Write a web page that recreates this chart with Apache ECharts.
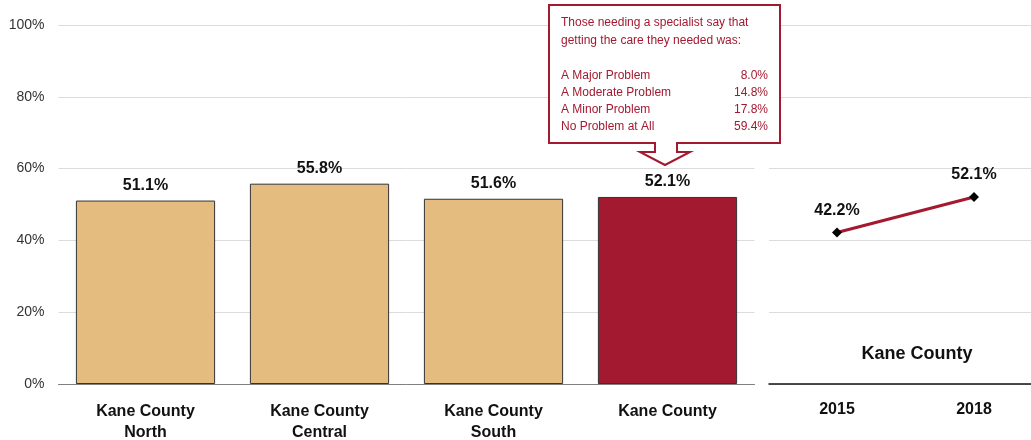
<!DOCTYPE html>
<html><head><meta charset="utf-8">
<script src="https://cdn.jsdelivr.net/npm/echarts@6/dist/echarts.min.js"></script>
<style>html,body{margin:0;padding:0;background:#fff}#c{width:1031px;height:440px}</style>
</head><body><div id="c"></div>
<script>
const barCategories = ['Kane County\nNorth', 'Kane County\nCentral', 'Kane County\nSouth', 'Kane County'];
const barValues = [51.1, 55.8, 51.6, 52.1];
const barColors = ['#E4BC7F', '#E4BC7F', '#E4BC7F', '#A3192F'];
const years = [2015, 2018];
const trendValues = [42.2, 52.1];
const calloutTitle = ['Those needing a specialist say that', 'getting the care they needed was:'];
const calloutLabels = ['A Major Problem', 'A Moderate Problem', 'A Minor Problem', 'No Problem at All'];
const calloutValues = ['8.0%', '14.8%', '17.8%', '59.4%'];

const FONT = "'Liberation Sans', Arial, sans-serif";
const RED = '#A3192F';
const chart = echarts.init(document.getElementById('c'));

const g = [
  {type:'rect', shape:{x:549, y:5, width:231, height:138}, style:{fill:'#fff', stroke:RED, lineWidth:2}, z:10},
  {type:'polyline', shape:{points:[[655,143],[655,152],[640,152],[665,165],[690,152],[677,152],[677,143]]}, style:{fill:'#fff', stroke:RED, lineWidth:2}, z:10},
  {type:'line', shape:{x1:656,y1:143,x2:676,y2:143}, style:{stroke:'#fff', lineWidth:3}, z:11}
];
calloutTitle.forEach((t,i)=>g.push({type:'text', x:561, y:23+i*17.5, style:{text:t, fill:RED, font:'12px '+FONT, textVerticalAlign:'middle'}, z:12}));
calloutLabels.forEach((t,i)=>{
  g.push({type:'text', x:561, y:76+i*17, style:{text:t, fill:RED, font:'12px '+FONT, textVerticalAlign:'middle'}, z:12});
  g.push({type:'text', x:768, y:76+i*17, style:{text:calloutValues[i], fill:RED, font:'12px '+FONT, textAlign:'right', textVerticalAlign:'middle'}, z:12});
});
g.push({type:'text', x:917, y:354, style:{text:'Kane County', fill:'#111', font:'bold 18px '+FONT, textAlign:'center', textVerticalAlign:'middle'}, z:12});

const labelStyle = {fontFamily:FONT, fontWeight:'bold', fontSize:16, color:'#111'};

chart.setOption({
  animation:false,
  textStyle:{fontFamily:FONT},
  grid:[
    {left:58.5, width:696, top:25, height:359, outerBoundsMode:'none', containLabel:false},
    {left:769, right:0, top:25, height:359, outerBoundsMode:'none', containLabel:false}
  ],
  xAxis:[
    {type:'category', gridIndex:0, data:barCategories,
     axisLine:{lineStyle:{color:'#7f7f7f', width:1}}, axisTick:{show:false},
     axisLabel:Object.assign({lineHeight:21, margin:17}, labelStyle)},
    {type:'value', gridIndex:1, min:2013.511, max:2019.248,
     axisLine:{show:true, onZero:false, lineStyle:{color:'#111', width:1.5}}, axisTick:{show:false},
     splitLine:{show:false},
     axisLabel:Object.assign({margin:18, customValues:years, formatter:v=>String(v)}, labelStyle)}
  ],
  yAxis:[
    {type:'value', gridIndex:0, min:0, max:100, interval:20,
     axisLabel:{formatter:'{value}%', fontFamily:FONT, fontSize:14, color:'#333', margin:14},
     splitLine:{lineStyle:{color:'#dcdcdc', width:1}}, axisLine:{show:false}, axisTick:{show:false}},
    {type:'value', gridIndex:1, min:0, max:100, interval:20,
     axisLabel:{show:false},
     splitLine:{lineStyle:{color:'#dcdcdc', width:1}}, axisLine:{show:false}, axisTick:{show:false}}
  ],
  series:[
    {type:'bar', xAxisIndex:0, yAxisIndex:0, barWidth:'80%',
     data:barValues.map((v,i)=>({value:v, itemStyle:{color:barColors[i]}})),
     itemStyle:{borderColor:'#333', borderWidth:1},
     label:Object.assign({show:true, position:'top', distance:7, formatter:p=>p.value.toFixed(1)+'%'}, labelStyle)},
    {type:'line', xAxisIndex:1, yAxisIndex:1, data:years.map((y,i)=>[y, trendValues[i]]),
     lineStyle:{color:RED, width:3}, symbol:'diamond', symbolSize:10, itemStyle:{color:'#000'},
     label:Object.assign({show:true, position:'top', distance:9, formatter:p=>p.value[1].toFixed(1)+'%'}, labelStyle)}
  ],
  graphic:g
});
</script></body></html>
